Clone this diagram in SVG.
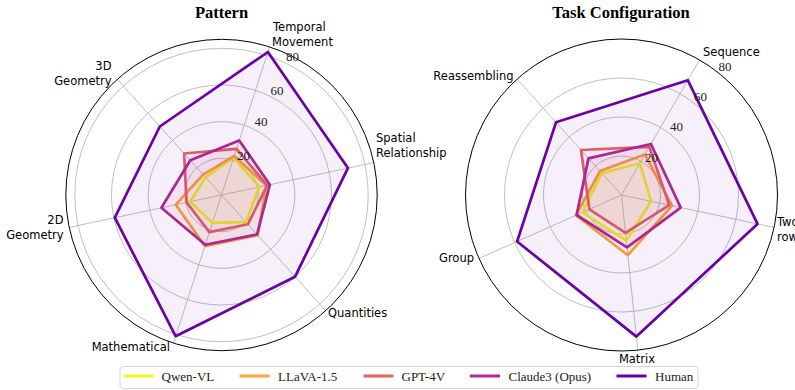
<svg xmlns="http://www.w3.org/2000/svg" width="795" height="390" viewBox="0 0 795 390">
<style>
.grid{fill:none;stroke:#b0b0b0;stroke-width:0.8}
.spoke{stroke:#b0b0b0;stroke-width:0.8}
.frame{fill:none;stroke:#000;stroke-width:1}
.title{font-family:"Liberation Serif",serif;font-weight:bold;font-size:16.5px;text-anchor:middle;fill:#000}
.tick{font-family:"Liberation Serif",serif;font-size:13px;text-anchor:middle;fill:#222}
.lab{font-family:"DejaVu Sans",sans-serif;font-size:11.5px;fill:#000}
.leg{font-family:"Liberation Serif",serif;font-size:13px;fill:#222}
.s{stroke-width:2.7;stroke-linejoin:round;fill-opacity:0.06}
.qwen{stroke:#f0f921;fill:#f0f921}
.llava{stroke:#fca636;fill:#fca636}
.gpt{stroke:#e16462;fill:#e16462}
.claude{stroke:#b12a90;fill:#b12a90}
.human{stroke:#6a00a8;fill:#6a00a8}
.ll{stroke-width:3}
</style>
<rect width="795" height="390" fill="#fff"/>

<g id="chart-pattern">
  <text class="title" x="221.5" y="18">Pattern</text>
  <g id="pattern-grid">
    <circle class="grid" cx="221.5" cy="195" r="36.7"/>
    <circle class="grid" cx="221.5" cy="195" r="73.3"/>
    <circle class="grid" cx="221.5" cy="195" r="110"/>
    <circle class="grid" cx="221.5" cy="195" r="146.7"/>
    <line class="spoke" x1="221.5" y1="195" x2="269.6" y2="46.9"/>
    <line class="spoke" x1="221.5" y1="195" x2="373.8" y2="162.6"/>
    <line class="spoke" x1="221.5" y1="195" x2="325.7" y2="310.7"/>
    <line class="spoke" x1="221.5" y1="195" x2="173.4" y2="343.1"/>
    <line class="spoke" x1="221.5" y1="195" x2="69.2" y2="227.4"/>
    <line class="spoke" x1="221.5" y1="195" x2="117.3" y2="79.3"/>
    <circle class="frame" cx="221.5" cy="195" r="155.7"/>
  </g>
  <g id="pattern-series">
    <polygon class="s qwen" points="233.7,157.5 259.2,187.0 246.0,222.2 212.4,222.9 190.1,201.7 205.6,177.3"/>
    <polygon class="s llava" points="234.2,155.8 266.3,185.5 257.7,235.2 204.9,246.1 175.8,204.7 203.1,174.6"/>
    <polygon class="s gpt" points="236.5,148.8 267.2,185.3 247.9,224.3 209.4,232.1 186.6,202.4 184.1,153.5"/>
    <polygon class="s claude" points="239.2,140.4 269.9,184.7 257.1,234.5 205.3,244.8 161.4,207.8 190.3,160.3"/>
    <polygon class="s human" points="267.9,52.0 347.9,168.1 295.1,276.7 175.6,336.2 114.8,217.7 159.8,126.5"/>
  </g>
  <g id="pattern-ticks">
    <text class="tick" x="243.5" y="160">20</text>
    <text class="tick" x="261" y="126">40</text>
    <text class="tick" x="277" y="94.5">60</text>
    <text class="tick" x="292.5" y="61">80</text>
  </g>
  <g id="pattern-labels">
    <text class="lab" x="273" y="31">Temporal</text>
    <text class="lab" x="272" y="46">Movement</text>
    <text class="lab" x="376" y="142">Spatial</text>
    <text class="lab" x="376" y="157">Relationship</text>
    <text class="lab" x="328" y="317">Quantities</text>
    <text class="lab" x="170" y="351" text-anchor="end">Mathematical</text>
    <text class="lab" x="63.5" y="223.5" text-anchor="end">2D</text>
    <text class="lab" x="63.5" y="239" text-anchor="end">Geometry</text>
    <text class="lab" x="111.5" y="70" text-anchor="end">3D</text>
    <text class="lab" x="111.5" y="84.5" text-anchor="end">Geometry</text>
  </g>
</g>

<g id="chart-task">
  <text class="title" x="621" y="18">Task Configuration</text>
  <g id="task-grid">
    <circle class="grid" cx="621.5" cy="195" r="39"/>
    <circle class="grid" cx="621.5" cy="195" r="78"/>
    <circle class="grid" cx="621.5" cy="195" r="117"/>
    <line class="spoke" x1="621.5" y1="195" x2="699.5" y2="59.9"/>
    <line class="spoke" x1="621.5" y1="195" x2="774.1" y2="227.4"/>
    <line class="spoke" x1="621.5" y1="195" x2="637.8" y2="350.1"/>
    <line class="spoke" x1="621.5" y1="195" x2="479.0" y2="258.4"/>
    <line class="spoke" x1="621.5" y1="195" x2="517.1" y2="79.1"/>
    <circle class="frame" cx="621.5" cy="195" r="156"/>
  </g>
  <g id="task-series">
    <polygon class="s qwen" points="639.8,163.2 651.1,201.3 626.3,240.6 582.3,212.4 601.9,173.2"/>
    <polygon class="s llava" points="644.9,154.5 672.1,205.7 627.8,255.2 575.9,215.3 600.0,171.1"/>
    <polygon class="s gpt" points="649.3,146.8 669.2,205.1 625.5,232.8 589.4,209.3 581.0,150.0"/>
    <polygon class="s claude" points="651.0,144.0 680.7,207.6 627.0,247.4 576.6,215.0 588.5,158.4"/>
    <polygon class="s human" points="687.8,80.2 757.5,223.9 636.4,336.6 517.1,241.5 556.0,122.3"/>
  </g>
  <g id="task-ticks">
    <text class="tick" x="651.5" y="162">20</text>
    <text class="tick" x="676.5" y="131">40</text>
    <text class="tick" x="700.5" y="101">60</text>
    <text class="tick" x="725" y="70.5">80</text>
  </g>
  <g id="task-labels">
    <text class="lab" x="703" y="56">Sequence</text>
    <text class="lab" x="777" y="226">Two</text>
    <text class="lab" x="777" y="241">row</text>
    <text class="lab" x="637" y="363" text-anchor="middle">Matrix</text>
    <text class="lab" x="474" y="262" text-anchor="end">Group</text>
    <text class="lab" x="513.5" y="79.5" text-anchor="end">Reassembling</text>
  </g>
</g>

<g id="legend">
  <rect x="120" y="366.5" width="578" height="22" rx="3" fill="#fff" fill-opacity="0.8" stroke="#cccccc" stroke-width="0.8"/>
  <line class="ll qwen" x1="123.5" y1="376" x2="153.5" y2="376"/>
  <text class="leg" x="161.5" y="381">Qwen-VL</text>
  <line class="ll llava" x1="239.5" y1="376" x2="269.5" y2="376"/>
  <text class="leg" x="278" y="381">LLaVA-1.5</text>
  <line class="ll gpt" x1="363.5" y1="376" x2="393.5" y2="376"/>
  <text class="leg" x="401.5" y="381">GPT-4V</text>
  <line class="ll claude" x1="470" y1="376" x2="500" y2="376"/>
  <text class="leg" x="508.5" y="381">Claude3 (Opus)</text>
  <line class="ll human" x1="616.5" y1="376" x2="646.5" y2="376"/>
  <text class="leg" x="655" y="381">Human</text>
</g>
</svg>
